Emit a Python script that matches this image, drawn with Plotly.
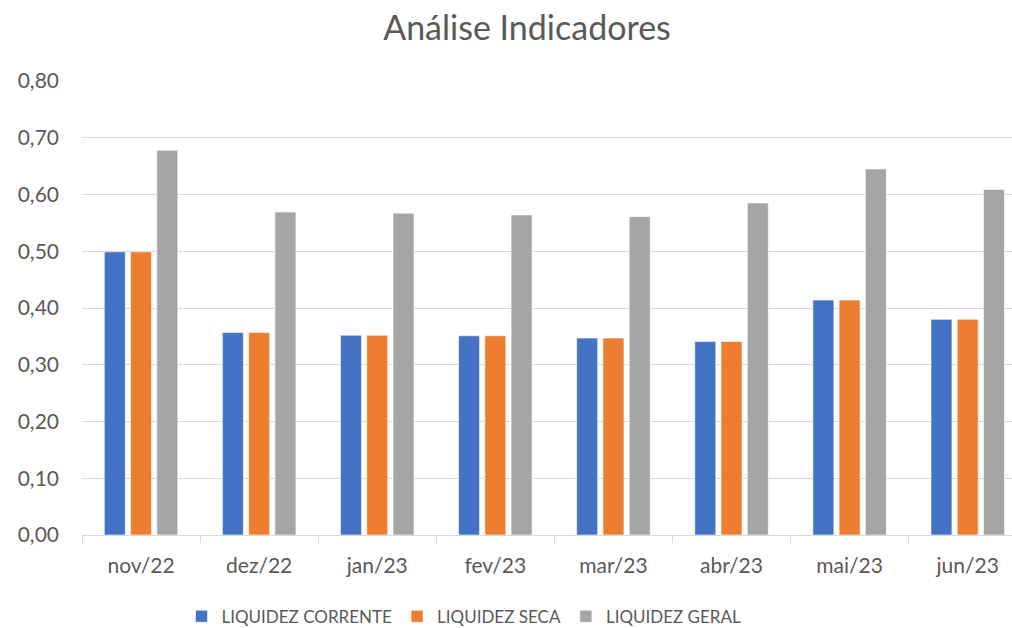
import plotly.graph_objects as go

BLUE = "#4472C4"
ORANGE = "#ED7D31"
GRAY = "#A5A5A5"
GRID = "#D9D9D9"
TEXT = "#595959"

months = ["nov/22", "dez/22", "jan/23", "fev/23", "mar/23", "abr/23", "mai/23", "jun/23"]
liq_corrente = [0.499, 0.357, 0.352, 0.351, 0.347, 0.341, 0.414, 0.380]
liq_seca = [0.499, 0.357, 0.352, 0.351, 0.347, 0.341, 0.414, 0.380]
liq_geral = [0.678, 0.569, 0.567, 0.564, 0.561, 0.585, 0.645, 0.609]

series = [
    ("LIQUIDEZ CORRENTE", liq_corrente, BLUE),
    ("LIQUIDEZ SECA", liq_seca, ORANGE),
    ("LIQUIDEZ GERAL", liq_geral, GRAY),
]

fig = go.Figure()
for name, vals, color in series:
    fig.add_trace(go.Bar(
        x=months, y=vals, name=name,
        marker=dict(color=color, line=dict(color="white", width=0.6)),
    ))

fig.update_layout(
    width=1012, height=628,
    barmode="group", bargap=0.333, bargroupgap=0.2,
    separators=",.",
    font=dict(family="Lato", color=TEXT, size=21),
    title=dict(text="Análise Indicadores", x=(527 - 82) / 930, xanchor="center",
               xref="paper", y=0.955, yanchor="middle",
               font=dict(size=34, color=TEXT)),
    plot_bgcolor="white", paper_bgcolor="white",
    # fixed margins: keep the legend from shrinking the plot area
    margin=dict(l=82, r=0, t=81, b=93, autoexpand=False),
    legend=dict(orientation="h", x=0.107, xanchor="left", y=-0.18, yanchor="middle",
                font=dict(size=17, color=TEXT), itemwidth=30,
                traceorder="normal"),
)
fig.update_yaxes(range=[0, 0.8], dtick=0.1, tickformat=".2f", showgrid=True,
                 gridcolor=GRID, gridwidth=1.3, zeroline=False, showline=False,
                 ticks="", ticklabelstandoff=22, automargin=False)
fig.update_xaxes(range=[-0.5, 7.375], showline=True, linecolor=GRID, linewidth=1.3,
                 ticks="outside", tickson="boundaries", ticklen=7, tickcolor=GRID,
                 tickwidth=1.3, showgrid=False, ticklabelstandoff=12, automargin=False)

# drop the default page margin so the figure sits at the window origin
fig.write_html("out.html", config={"displayModeBar": False},
               post_script="document.body.style.margin='0';"
               "document.body.style.overflow='hidden';")
